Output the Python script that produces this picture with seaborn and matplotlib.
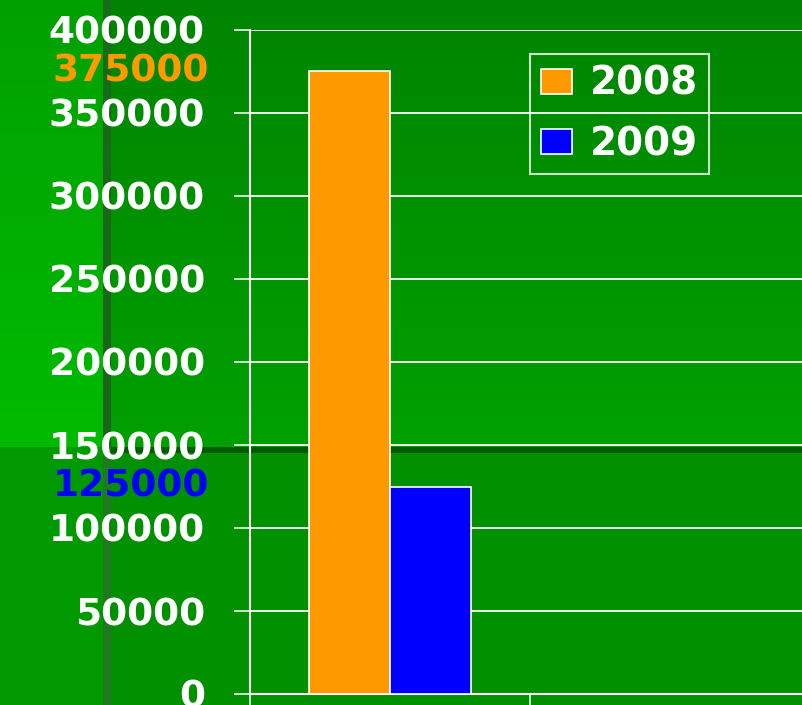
import numpy as np
import pandas as pd
import matplotlib
matplotlib.use("Agg")
import matplotlib.pyplot as plt
import seaborn as sns

# data
categories = ["Group 1"]
years = ["2008", "2009"]
values_2008 = [375000]
values_2009 = [125000]
yticks = [0, 50000, 100000, 150000, 200000, 250000, 300000, 350000, 400000]
bar_colors = ["#ff9900", "#0000ff"]

df = pd.DataFrame({
    "category": categories * 2,
    "year": [years[0]] * len(categories) + [years[1]] * len(categories),
    "value": values_2008 + values_2009,
})

W, H = 803, 705
fig = plt.figure(figsize=(W / 100, H / 100), dpi=100)

# green slide background
img = np.zeros((H, W, 3))
t = np.linspace(0, 1, 447)[:, None]
img[:447, :, 1] = (0x84 + (0xa0 - 0x84) * t) / 255
img[:447, :103, 1] = (0xa0 + (0xbb - 0xa0) * t) / 255
img[447:, :, 1] = 0x90 / 255
img[447:, :103, 1] = 0x9a / 255
img[447:453, 103:, 1] = 0x5a / 255
img[:447, 103:111, 1] = (0x6c + (0x64 - 0x6c) * t) / 255
img[:447, 103:111, 0] = 0x18 / 255
img[:447, 103:111, 2] = 0x18 / 255
img[447:, 103:111] = [0x20 / 255, 0x78 / 255, 0x20 / 255]
bg = fig.add_axes([0, 0, 1, 1], zorder=0)
bg.imshow(img, aspect="auto", interpolation="nearest")
bg.axis("off")

ax = fig.add_axes([250 / W, 11 / H, 560 / W, 664 / H], zorder=1)
ax.set_facecolor("none")

sns.barplot(data=df, x="category", y="value", hue="year", hue_order=years,
            palette=bar_colors, width=0.58, edgecolor="white", linewidth=1.2,
            saturation=1, ax=ax, zorder=3)

ax.set_xlim(-0.5, 1.5)
ax.set_ylim(0, 400000)
ax.set_yticks(yticks)
ax.set_yticklabels([str(v) for v in yticks])
ax.set_xticks([-0.5, 0.5, 1.5])
ax.set_xticklabels([])
ax.set_xlabel("")
ax.set_ylabel("")
ax.grid(axis="y", color="white", linewidth=1.3, zorder=1)
ax.set_axisbelow(True)
for s in ["top", "right"]:
    ax.spines[s].set_visible(False)
for s in ["left", "bottom"]:
    ax.spines[s].set_color("white")
    ax.spines[s].set_linewidth(1.5)
ax.tick_params(axis="y", colors="white", length=11.5, width=1.1, pad=21,
               labelsize=27)
ax.tick_params(axis="x", colors="white", length=9, width=1.1)
for lab in ax.get_yticklabels():
    lab.set_fontweight("bold")
    lab.set_family("DejaVu Sans")

# highlighted bar values beside the axis
tr = ax.get_yaxis_transform()
ax.text(-0.073, values_2008[0], str(values_2008[0]), transform=tr, ha="right",
        va="center", color=bar_colors[0], fontsize=27, fontweight="bold")
ax.text(-0.073, values_2009[0], str(values_2009[0]), transform=tr, ha="right",
        va="center", color=bar_colors[1], fontsize=27, fontweight="bold")

leg = ax.legend(loc="upper left", bbox_to_anchor=(0.5, 0.964), borderaxespad=0,
                frameon=True, fancybox=False, facecolor="none", edgecolor="white",
                prop={"size": 28, "weight": "bold"}, handlelength=0.8,
                handleheight=0.62, labelspacing=0.58, handletextpad=0.45,
                borderpad=0.28)
leg.get_frame().set_linewidth(1.5)
for txt in leg.get_texts():
    txt.set_color("white")

fig.savefig("out.png", dpi=100)
